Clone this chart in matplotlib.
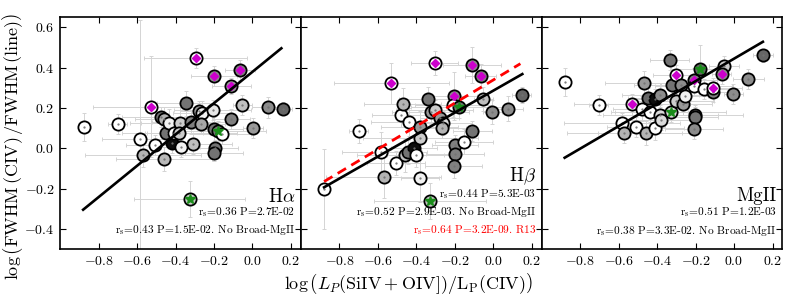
import matplotlib
matplotlib.use('Agg')
import matplotlib.pyplot as plt
from matplotlib.ticker import FuncFormatter

plt.rcParams['font.family'] = 'serif'
plt.rcParams['font.serif'] = ['cmr10']
plt.rcParams['mathtext.fontset'] = 'cm'
plt.rcParams['axes.formatter.use_mathtext'] = True

# ---------------- data ----------------
# Panel 1 : H-alpha
x_ha = [-0.875, -0.70, -0.583, -0.569, -0.527, -0.508, -0.478, -0.462, -0.461, -0.449,
        -0.435, -0.418, -0.409, -0.379, -0.38, -0.374, -0.345, -0.32, -0.309, -0.296,
        -0.277, -0.261, -0.265, -0.207, -0.20, -0.20, -0.18, -0.195, -0.20, -0.157,
        -0.11, -0.113, -0.065, -0.052, 0.003, 0.078, 0.156, -0.327]
y_ha = [0.105, 0.12, 0.044, -0.035, 0.205, 0.016, 0.153, 0.143, -0.054, 0.077,
        0.123, 0.028, 0.077, 0.126, 0.077, 0.005, 0.222, 0.131, 0.021, 0.449,
        0.186, 0.176, 0.12, 0.189, 0.357, 0.095, 0.085, 0.0, -0.025, 0.069,
        0.31, 0.143, 0.386, 0.214, 0.10, 0.202, 0.197, -0.252]
g_ha = [1.0, 1.0, 1.0, 0.7, 1.0, 1.0, 0.45, 0.7, 0.72, 0.45,
        0.95, 0.05, 1.0, 0.8, 0.8, 0.95, 0.45, 0.5, 0.75, 1.0,
        0.6, 0.95, 0.65, 0.9, 0.55, 0.45, 0.45, 0.45, 0.45, 1.0,
        0.6, 0.5, 0.5, 0.75, 0.6, 0.55, 0.4, 0.8]
xe_ha = [0.03, 0.05, 0.2, 0.3, 0.3, 0.15, 0.2, 0.15, 0.25, 0.1,
         0.2, 0.12, 0.15, 0.2, 0.3, 0.1, 0.15, 0.2, 0.2, 0.27,
         0.1, 0.15, 0.12, 0.2, 0.12, 0.15, 0.25, 0.12, 0.15, 0.15,
         0.1, 0.1, 0.08, 0.05, 0.05, 0.08, 0.05, 0.29]
ye_ha = [0.07, 0.05, 0.59, 0.06, 0.25, 0.05, 0.05, 0.06, 0.06, 0.05,
         0.07, 0.05, 0.05, 0.08, 0.06, 0.05, 0.06, 0.06, 0.05, 0.05,
         0.05, 0.06, 0.05, 0.05, 0.05, 0.06, 0.05, 0.04, 0.04, 0.05,
         0.04, 0.05, 0.05, 0.05, 0.05, 0.05, 0.03, 0.09]
dia_ha = [4, 19, 24, 30, 32]
star_ha = [26, 37]
fit_ha = (0.777, 0.379)

# Panel 2 : H-beta
x_hb = [-0.88, -0.70, -0.585, -0.571, -0.531, -0.506, -0.479, -0.472, -0.46, -0.446,
        -0.437, -0.411, -0.405, -0.383, -0.38, -0.383, -0.341, -0.327, -0.306, -0.306,
        -0.28, -0.261, -0.265, -0.331, -0.206, -0.21, -0.18, -0.20, -0.20, -0.207,
        -0.153, -0.11, -0.11, -0.066, -0.053, -0.006, 0.076, 0.147]
y_hb = [-0.202, 0.087, -0.02, -0.145, 0.321, -0.074, 0.164, 0.219, -0.036, -0.02,
        0.131, 0.003, -0.033, 0.104, 0.052, -0.148, 0.243, 0.181, 0.189, 0.424,
        0.148, 0.126, 0.099, -0.263, 0.258, 0.214, 0.202, 0.016, -0.028, -0.087,
        0.033, 0.087, 0.414, 0.357, 0.243, 0.181, 0.197, 0.263]
g_hb = [1.0, 1.0, 1.0, 0.7, 1.0, 1.0, 1.0, 0.7, 0.75, 0.45,
        1.0, 0.05, 1.0, 0.6, 0.8, 0.95, 0.45, 0.6, 0.8, 1.0,
        0.6, 0.85, 0.7, 0.75, 0.55, 1.0, 0.45, 0.5, 0.5, 0.5,
        1.0, 0.45, 0.55, 0.5, 0.75, 0.55, 0.55, 0.4]
xe_hb = [0.03, 0.05, 0.2, 0.3, 0.3, 0.15, 0.15, 0.2, 0.25, 0.1,
         0.2, 0.12, 0.15, 0.2, 0.3, 0.1, 0.15, 0.2, 0.2, 0.12,
         0.1, 0.15, 0.12, 0.29, 0.12, 0.2, 0.25, 0.12, 0.15, 0.15,
         0.15, 0.1, 0.15, 0.08, 0.05, 0.05, 0.08, 0.05]
ye_hb = [0.2, 0.06, 0.1, 0.1, 0.1, 0.06, 0.06, 0.08, 0.08, 0.06,
         0.07, 0.05, 0.06, 0.08, 0.06, 0.12, 0.06, 0.06, 0.05, 0.06,
         0.05, 0.06, 0.05, 0.09, 0.12, 0.06, 0.05, 0.05, 0.05, 0.06,
         0.06, 0.05, 0.09, 0.06, 0.06, 0.06, 0.06, 0.04]
dia_hb = [4, 19, 24, 32, 33]
star_hb = [23, 26]
fit_hb = (0.545, 0.286)
fit_r13 = (0.573, 0.339)

# Panel 3 : MgII
x_mg = [-0.878, -0.704, -0.582, -0.57, -0.53, -0.508, -0.478, -0.47, -0.457, -0.449,
        -0.437, -0.409, -0.409, -0.383, -0.383, -0.38, -0.334, -0.33, -0.322, -0.304,
        -0.30, -0.278, -0.265, -0.257, -0.209, -0.21, -0.205, -0.205, -0.207, -0.179,
        -0.157, -0.11, -0.108, -0.052, -0.065, -0.003, 0.075, 0.151]
y_mg = [0.329, 0.214, 0.126, 0.074, 0.217, 0.107, 0.197, 0.321, 0.074, 0.25,
        0.181, 0.243, 0.099, 0.263, 0.164, 0.14, 0.439, 0.178, 0.316, 0.233,
        0.362, 0.312, 0.217, 0.26, 0.337, 0.309, 0.164, 0.153, 0.094, 0.393,
        0.293, 0.279, 0.299, 0.408, 0.37, 0.268, 0.345, 0.46]
g_mg = [1.0, 1.0, 1.0, 0.7, 0.9, 1.0, 1.0, 0.6, 0.7, 0.4,
        1.0, 0.05, 1.0, 0.55, 0.85, 0.85, 0.45, 0.85, 0.45, 0.8,
        1.0, 0.55, 0.6, 0.95, 0.5, 1.0, 0.45, 0.45, 0.55, 0.4,
        1.0, 0.5, 1.0, 0.8, 0.55, 0.55, 0.55, 0.4]
xe_mg = [0.03, 0.05, 0.3, 0.3, 0.3, 0.15, 0.15, 0.2, 0.25, 0.1,
         0.2, 0.12, 0.15, 0.2, 0.3, 0.2, 0.1, 0.29, 0.2, 0.2,
         0.12, 0.1, 0.15, 0.12, 0.12, 0.2, 0.25, 0.12, 0.15, 0.15,
         0.15, 0.1, 0.15, 0.08, 0.05, 0.05, 0.08, 0.05]
ye_mg = [0.07, 0.05, 0.05, 0.05, 0.05, 0.05, 0.06, 0.06, 0.06, 0.05,
         0.05, 0.05, 0.06, 0.06, 0.05, 0.05, 0.05, 0.05, 0.05, 0.05,
         0.05, 0.05, 0.05, 0.05, 0.06, 0.05, 0.05, 0.05, 0.05, 0.12,
         0.05, 0.05, 0.05, 0.05, 0.05, 0.05, 0.05, 0.03]
dia_mg = [4, 20, 24, 32, 34]
star_mg = [17, 29]
fit_mg = (0.558, 0.444)

fit_range = (-0.88, 0.15)
r13_range = (-0.88, 0.14)

line_names = [r'H$\alpha$', r'H$\beta$', 'MgII']
stats_ha = [r'r$_\mathrm{s}$=0.36 P=2.7E-02', r'r$_\mathrm{s}$=0.43 P=1.5E-02. No Broad-MgII']
stats_hb = [r'r$_\mathrm{s}$=0.44 P=5.3E-03', r'r$_\mathrm{s}$=0.52 P=2.9E-03. No Broad-MgII',
            r'r$_\mathrm{s}$=0.64 P=3.2E-09. R13']
stats_mg = [r'r$_\mathrm{s}$=0.51 P=1.2E-03', r'r$_\mathrm{s}$=0.38 P=3.3E-02. No Broad-MgII']

xticks = [-0.8, -0.6, -0.4, -0.2, 0.0, 0.2]
yticks = [-0.4, -0.2, 0.0, 0.2, 0.4, 0.6]

# ---------------- plot ----------------
fig = plt.figure(figsize=(7.89, 3.06), dpi=100)
W = 0.3049
lefts = [0.0761, 0.3815, 0.6864]
panels = [
    (x_ha, y_ha, g_ha, xe_ha, ye_ha, dia_ha, star_ha, [fit_ha], stats_ha),
    (x_hb, y_hb, g_hb, xe_hb, ye_hb, dia_hb, star_hb, [fit_hb, fit_r13], stats_hb),
    (x_mg, y_mg, g_mg, xe_mg, ye_mg, dia_mg, star_mg, [fit_mg], stats_mg),
]
name_y = [0.205, 0.292, 0.208]
stat_y = [[0.160, 0.086], [0.238, 0.160, 0.082], [0.160, 0.082]]
fmt = FuncFormatter(lambda v, p: r'$%.1f$' % v)

for i, (x, y, g, xe, ye, dia, star, fits, stats) in enumerate(panels):
    ax = fig.add_axes([lefts[i], 0.186, W, 0.758])
    ax.errorbar(x, y, xerr=xe, yerr=ye, fmt='none', ecolor='#d4d4d4',
                elinewidth=0.7, capsize=1.5, capthick=0.7, zorder=1)
    for j in range(len(x)):
        ax.plot(x[j], y[j], 'o', ms=8.8, mfc=str(g[j]), mec='k', mew=1.3, zorder=3)
    ax.plot(x, y, '.', ms=1.2, color='0.45', zorder=4)
    ax.plot([x[k] for k in dia], [y[k] for k in dia], 'D', ms=3.6,
            mfc='#cc00cc', mec='#cc00cc', zorder=5)
    ax.plot([x[k] for k in star], [y[k] for k in star], '*', ms=7.5,
            mfc='#1a8c1a', mec='#1a8c1a', zorder=5)
    for k, (m, b) in enumerate(fits):
        if k == 0:
            xs = list(fit_range)
            ax.plot(xs, [m * v + b for v in xs], '-', color='k', lw=1.9, zorder=6)
        else:
            xs = list(r13_range)
            ax.plot(xs, [m * v + b for v in xs], '--', color='red', lw=2.0,
                    dashes=(3.5, 2.2), zorder=6)
    ax.set_xlim(-1.0, 0.25)
    ax.set_ylim(-0.5, 0.65)
    ax.set_xticks(xticks)
    ax.set_yticks(yticks)
    ax.xaxis.set_major_formatter(fmt)
    ax.yaxis.set_major_formatter(fmt)
    ax.tick_params(direction='in', top=True, right=True, length=4, width=0.8,
                   labelsize=10, pad=4)
    if i > 0:
        ax.tick_params(labelleft=False)
    for sp in ax.spines.values():
        sp.set_linewidth(1.2)
    ax.text(0.978, name_y[i], line_names[i], transform=ax.transAxes,
            ha='right', va='baseline', fontsize=13.5, zorder=7)
    for k, s in enumerate(stats):
        ax.text(0.978, stat_y[i][k], s, transform=ax.transAxes, ha='right',
                va='center', fontsize=8.2, color='red' if k == 2 else 'k', zorder=7)

fig.text(0.518, 0.072, r'$\log\left(L_P(\mathrm{SiIV+OIV]})/\mathrm{L_P(CIV)}\right)$',
         ha='center', va='center', fontsize=13)
fig.text(0.016, 0.523, r'$\log\left(\mathrm{FWHM\,(CIV)\,/FWHM\,(line)}\right)$',
         ha='center', va='center', rotation=90, fontsize=13)

fig.savefig('out.png', dpi=100)
